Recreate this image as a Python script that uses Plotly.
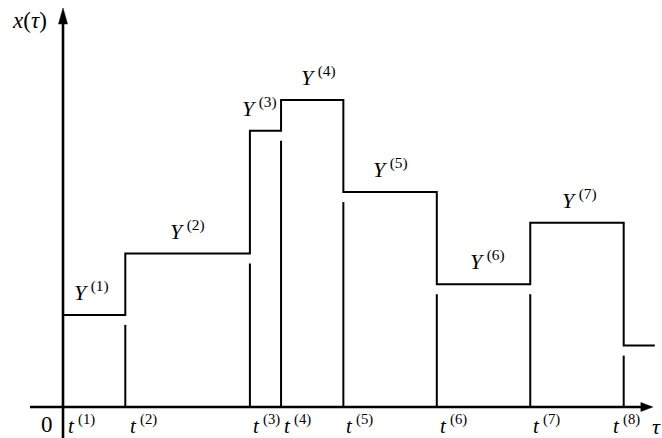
import plotly.graph_objects as go

# Switching instants t(1)..t(8) and the end of the time axis
t_points = [0, 2, 6, 7, 9, 12, 15, 18]
t_end = 19.0
# Held value x(tau) on each interval: Y(1)..Y(7), then the final level after t(8)
levels = [3, 5, 9, 10, 7, 4, 6, 2]

y_labels = ["<i>Y</i>\u2009<sup>(%d)</sup>" % k for k in range(1, 8)]
t_labels = ["<i>t</i>\u2009<sup>(%d)</sup>" % k for k in range(1, 9)]

FONT = "Liberation Serif, Times New Roman, serif"
W, H = 662, 438
# pixel scale of one time unit / one value unit, and the origin in the page
sx, sy = 31.15, 30.7
ox, oy = 63, 407
x_range = [-ox / sx, (W - ox) / sx]
y_range = [-(H - oy) / sy, oy / sy]
px_x = 1 / sx
px_y = 1 / sy

fig = go.Figure()

# Piecewise-constant trajectory
fig.add_trace(go.Scatter(
    x=t_points + [t_end],
    y=levels + [levels[-1]],
    mode="lines",
    line=dict(color="black", width=2, shape="hv"),
    hoverinfo="skip",
    showlegend=False,
))

# Vertical markers from the time axis up to each switching instant
gap = 10 * px_y
for i in range(1, len(t_points)):
    top = min(levels[i - 1], levels[i]) - gap
    fig.add_trace(go.Scatter(
        x=[t_points[i], t_points[i]],
        y=[0, top],
        mode="lines",
        line=dict(color="black", width=2),
        hoverinfo="skip",
        showlegend=False,
    ))

shapes = []
# Axes with arrow heads
x_tip = t_end - 2 * px_x
x_start = x_range[0] + 30 * px_x
shapes.append(dict(type="line", xref="x", yref="y", x0=x_start, x1=x_tip - 10 * px_x,
                   y0=0, y1=0, line=dict(color="black", width=2.6)))
shapes.append(dict(type="path", xref="x", yref="y",
                   path="M %f,%f L %f,%f L %f,%f Z" % (
                       x_tip, 0, x_tip - 12 * px_x, 4.5 * px_y, x_tip - 12 * px_x, -4.5 * px_y),
                   fillcolor="black", line=dict(color="black", width=0.5)))
y_tip = y_range[1] - 8 * px_y
shapes.append(dict(type="line", xref="x", yref="y", x0=0, x1=0,
                   y0=y_range[0], y1=y_tip - 12 * px_y, line=dict(color="black", width=2.6)))
shapes.append(dict(type="path", xref="x", yref="y",
                   path="M %f,%f L %f,%f L %f,%f Z" % (
                       0, y_tip, -4.5 * px_x, y_tip - 16 * px_y, 4.5 * px_x, y_tip - 16 * px_y),
                   fillcolor="black", line=dict(color="black", width=0.5)))

annotations = []
# Level labels above each held segment
y_label_shift = [-3, 0, -6, 6, 0, 4, 3]
for i, lab in enumerate(y_labels):
    mid = (t_points[i] + t_points[i + 1]) / 2
    annotations.append(dict(x=mid, y=levels[i], xref="x", yref="y", text=lab,
                            showarrow=False, xanchor="center", yanchor="bottom",
                            xshift=y_label_shift[i], yshift=8,
                            font=dict(family=FONT, size=22, color="black")))
# Time labels under the axis (the last one sits left of its marker, clear of the tau)
t_label_shift = [3, 3, 1, 1, 1, 1, 1, -13]
for t, lab, dx in zip(t_points, t_labels, t_label_shift):
    annotations.append(dict(x=t, y=0, xref="x", yref="y", text=lab,
                            showarrow=False, xanchor="left", yanchor="top",
                            xshift=dx, yshift=-2, font=dict(family=FONT, size=21, color="black")))
annotations.append(dict(x=0, y=0, xref="x", yref="y", text="0", showarrow=False,
                        xanchor="right", yanchor="top", xshift=-8, yshift=-3,
                        font=dict(family=FONT, size=23, color="black")))
annotations.append(dict(x=t_end, y=0, xref="x", yref="y", text="<i>τ</i>", showarrow=False,
                        xanchor="left", yanchor="top", xshift=-5, yshift=-5,
                        font=dict(family=FONT, size=22, color="black")))
annotations.append(dict(x=0, y=y_range[1], xref="x", yref="y", text="<i>x</i>(<i>τ</i>)",
                        showarrow=False, xanchor="right", yanchor="top", xshift=-14, yshift=-6,
                        font=dict(family=FONT, size=23, color="black")))

fig.update_layout(
    width=W, height=H,
    margin=dict(l=0, r=0, t=0, b=0),
    paper_bgcolor="white", plot_bgcolor="white",
    xaxis=dict(range=x_range, visible=False, fixedrange=True),
    yaxis=dict(range=y_range, visible=False, fixedrange=True),
    shapes=shapes,
    annotations=annotations,
)

fig.write_html("out.html")
